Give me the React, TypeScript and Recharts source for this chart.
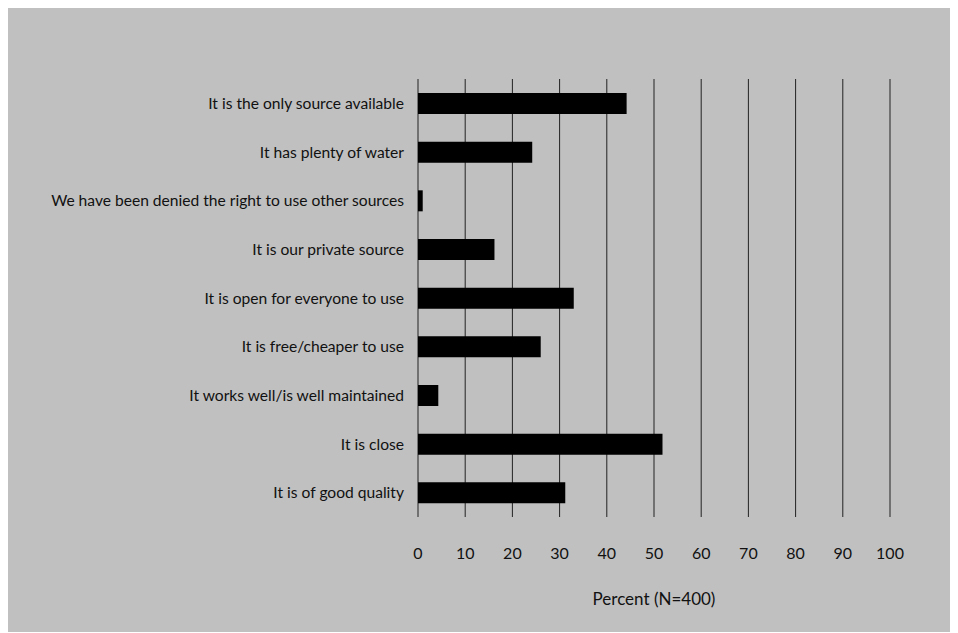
import { BarChart, Bar, XAxis, YAxis, CartesianGrid } from "recharts";

const reasons = [
  "It is the only source available",
  "It has plenty of water",
  "We have been denied the right to use other sources",
  "It is our private source",
  "It is open for everyone to use",
  "It is free/cheaper to use",
  "It works well/is well maintained",
  "It is close",
  "It is of good quality",
];

const percents = [44.2, 24.2, 1.0, 16.2, 33.0, 26.0, 4.3, 51.8, 31.2];

const percentTicks = [0, 10, 20, 30, 40, 50, 60, 70, 80, 90, 100];

const data = reasons.map((reason, i) => ({ reason, percent: percents[i] }));

const FONT = "Lato, 'Open Sans', sans-serif";

const PercentTick = (props: any) => {
  const { x, y, payload } = props;
  return (
    <text
      x={x}
      y={y}
      dy="0.355em"
      textAnchor="middle"
      fill="#111"
      fontSize={16}
      fontFamily={FONT}
    >
      {payload.value}
    </text>
  );
};

const ReasonTick = (props: any) => {
  const { x, y, payload } = props;
  return (
    <text
      x={x}
      y={y}
      dy="0.355em"
      textAnchor="end"
      fill="#111"
      fontSize={15.6}
      fontFamily={FONT}
    >
      {payload.value}
    </text>
  );
};

const App = () => {
  return (
    <div
      style={{
        width: 942,
        height: 625,
        marginTop: -1,
        background: "#c0c0c0",
      }}
    >
      <BarChart
        width={942}
        height={625}
        layout="vertical"
        data={data}
        margin={{ top: 72, right: 60, left: 0, bottom: 0 }}
        barCategoryGap={0}
      >
        <CartesianGrid
          horizontal={false}
          vertical={true}
          stroke="#222"
          strokeWidth={1}
        />
        <XAxis
          type="number"
          domain={[0, 100]}
          ticks={percentTicks}
          axisLine={false}
          tickLine={false}
          tickSize={0}
          tickMargin={36}
          height={115}
          tick={<PercentTick />}
          label={{
            value: "Percent (N=400)",
            position: "insideBottom",
            offset: 27,
            fill: "#111",
            fontSize: 17,
            fontFamily: FONT,
          }}
        />
        <YAxis
          type="category"
          dataKey="reason"
          width={410}
          axisLine={false}
          tickLine={false}
          tickSize={0}
          tickMargin={14}
          interval={0}
          tick={<ReasonTick />}
        />
        <Bar
          dataKey="percent"
          fill="#000"
          barSize={21}
          isAnimationActive={false}
        />
      </BarChart>
    </div>
  );
};

export default App;
